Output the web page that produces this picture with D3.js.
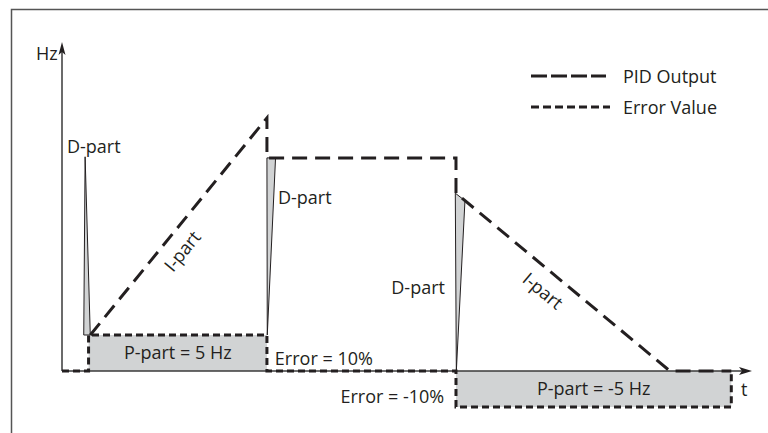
<!DOCTYPE html>
<html>
<head>
<meta charset="utf-8">
<script src="https://cdn.jsdelivr.net/npm/d3@7"></script>
<style>
  body { margin: 0; background: #fff; }
  svg text { font-family: "Open Sans", "Noto Sans", sans-serif; font-size: 18px; fill: #231f20; }
</style>
</head>
<body>
<svg id="chart" width="768" height="433"></svg>
<script>
// time is in arbitrary units (0..100), value in % of the output range
const pidOutput = [[4.1, 10], [29.7, 70.3], [29.7, 59.2], [57.1, 59.2], [57.1, 49.4], [88.1, 0], [97, 0]];
const errorValue = [[0, 0], [3.85, 0], [3.85, 10], [29.7, 10], [29.7, 0], [57.1, 0], [57.1, -10], [97, -10], [97, 0]];
const pParts = [
    { t0: 3.85, t1: 29.7, v: 10, label: 'P-part = 5 Hz' },
    { t0: 57.1, t1: 97, v: -10, label: 'P-part = -5 Hz' }
];
const dParts = [
    [[3.15, 10], [3.35, 59.5], [4.1, 10]],
    [[29.7, 59.2], [30.95, 59.2], [29.75, 10]],
    [[57.0, 49.4], [58.4, 47.3], [57.15, 0]]
];
const legendItems = ['PID Output', 'Error Value'];

const svg = d3.select('#chart');
const x = d3.scaleLinear().domain([0, 100]).range([62, 752]);
const y = d3.scaleLinear().domain([-10, 90]).range([407, 47]);
const ink = '#231f20';
const grey = '#d1d3d4';

// frame
svg.append('path')
    .attr('d', 'M11.5,433 V9.5 H768')
    .attr('fill', 'none')
    .attr('stroke', '#555')
    .attr('stroke-width', 1.5);

// P-part boxes
svg.selectAll('.pbox')
    .data(pParts)
    .enter().append('rect')
    .attr('class', 'pbox')
    .attr('x', d => x(d.t0))
    .attr('width', d => x(d.t1) - x(d.t0))
    .attr('y', d => Math.min(y(d.v), y(0)))
    .attr('height', d => Math.abs(y(d.v) - y(0)))
    .attr('fill', grey);

// axes with arrow heads
svg.append('line')
    .attr('x1', x(0)).attr('y1', y(0))
    .attr('x2', x(100) - 6).attr('y2', y(0))
    .attr('stroke', '#3a3a3a').attr('stroke-width', 1.5);
svg.append('path')
    .attr('d', `M${x(100)},${y(0)} l-13,-4 l3,4 l-3,4 z`)
    .attr('fill', ink);
svg.append('line')
    .attr('x1', x(0)).attr('y1', y(0))
    .attr('x2', x(0)).attr('y2', y(91.4) + 6)
    .attr('stroke', '#3a3a3a').attr('stroke-width', 1.5);
svg.append('path')
    .attr('d', `M${x(0)},${y(91.4)} l-3.5,13 l3.5,-3 l3.5,3 z`)
    .attr('fill', ink);

// D-part spikes
svg.selectAll('.dpart')
    .data(dParts)
    .enter().append('path')
    .attr('class', 'dpart')
    .attr('d', d => d3.line().x(p => x(p[0])).y(p => y(p[1]))(d) + 'Z')
    .attr('fill', grey)
    .attr('stroke', ink)
    .attr('stroke-width', 1)
    .attr('stroke-linejoin', 'miter');

const line = d3.line().x(d => x(d[0])).y(d => y(d[1]));

svg.append('path')
    .attr('d', line(errorValue))
    .attr('fill', 'none')
    .attr('stroke', ink)
    .attr('stroke-width', 3)
    .attr('stroke-dasharray', '7,4');

svg.append('path')
    .attr('d', line(pidOutput))
    .attr('fill', 'none')
    .attr('stroke', ink)
    .attr('stroke-width', 3)
    .attr('stroke-dasharray', '15,8');

// labels
svg.append('text').attr('x', x(0) - 26).attr('y', y(91.4) + 18).text('Hz');
svg.append('text').attr('x', x(100) - 11).attr('y', y(0) + 25).text('t');

svg.append('text').attr('x', x(0.72)).attr('y', y(60.5)).text('D-part');
svg.append('text').attr('x', x(31.3)).attr('y', y(46.4)).text('D-part');
svg.append('text').attr('x', x(55.5)).attr('y', y(21.4)).attr('text-anchor', 'end').text('D-part');

svg.selectAll('.plabel')
    .data(pParts)
    .enter().append('text')
    .attr('class', 'plabel')
    .attr('x', d => (x(d.t0) + x(d.t1)) / 2)
    .attr('y', d => y(d.v / 2) + 6)
    .attr('text-anchor', 'middle')
    .text(d => d.label);

svg.append('text').attr('x', x(30.85)).attr('y', y(1.7)).text('Error = 10%');
svg.append('text').attr('x', x(55.4)).attr('y', y(-8.9)).attr('text-anchor', 'end').text('Error = -10%');

// I-part labels follow the slopes
function slopeLabel(a, b, frac, offset) {
    const x0 = x(a[0]) + (x(b[0]) - x(a[0])) * frac;
    const y0 = y(a[1]) + (y(b[1]) - y(a[1])) * frac;
    const ang = Math.atan2(y(b[1]) - y(a[1]), x(b[0]) - x(a[0])) * 180 / Math.PI;
    svg.append('text')
        .attr('transform', `translate(${x0},${y0}) rotate(${ang})`)
        .attr('x', 0).attr('y', offset)
        .attr('text-anchor', 'middle')
        .text('I-part');
}
slopeLabel(pidOutput[0], pidOutput[1], 0.44, 25);
slopeLabel(pidOutput[4], pidOutput[5], 0.465, 26);

// legend
const legend = svg.append('g').attr('transform', 'translate(531,76)');
legendItems.forEach((name, i) => {
    legend.append('line')
        .attr('x1', 0).attr('x2', i === 0 ? 75 : 79)
        .attr('y1', i * 31).attr('y2', i * 31)
        .attr('stroke', ink)
        .attr('stroke-width', 3)
        .attr('stroke-dasharray', i === 0 ? '16,4' : '8,4');
    legend.append('text')
        .attr('x', 92)
        .attr('y', i * 31 + 7)
        .text(name);
});
</script>
</body>
</html>
